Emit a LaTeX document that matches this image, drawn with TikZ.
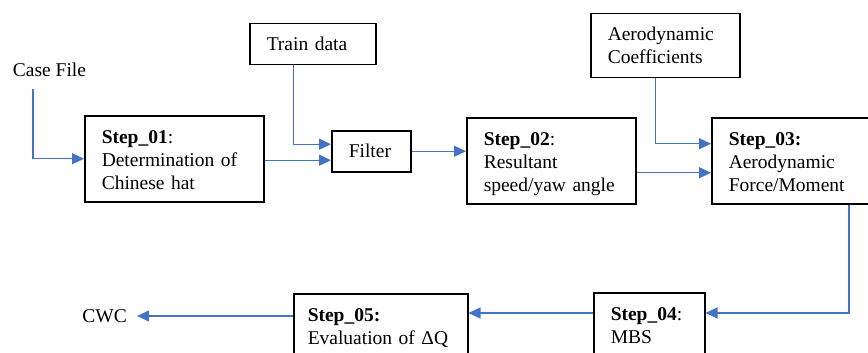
\documentclass[tikz,border=0pt]{standalone}
\usepackage{fontspec}
\setmainfont{Liberation Serif}
\usetikzlibrary{arrows.meta}

\definecolor{flowblue}{HTML}{4472C4}

\begin{document}
\begin{tikzpicture}[x=1pt, y=-1pt,
	every node/.style={font=\fontsize{19.5}{22.8}\selectfont},
	stepbox/.style={draw, line width=1.5pt, anchor=north west, align=left, inner xsep=17pt, inner ysep=0pt, text height=28pt, text depth=58pt},
	databox/.style={draw, line width=1.5pt, anchor=north west, align=left, inner xsep=17pt, inner ysep=0pt, text height=27pt, text depth=14pt},
	flow/.style={draw=flowblue, line width=1.1pt, -{Triangle[length=12pt, width=11pt]}, fill=none}]
	\useasboundingbox (0,0) rectangle (868,353);
	% inputs and outputs
	\node[inner sep=0pt] (case) at (49.5,69.5) {Case File};
	\coordinate (caseout) at (33,89);
	\node[inner xsep=10pt, inner ysep=0pt] (cwc) at (104.7,316) {CWC};
	\node[databox, text width=92pt] (train) at (249,23) {Train data};
	\node[databox, text width=45pt] (filter) at (331,130) {Filter};
	\node[databox, text width=115pt, text depth=37pt] (aero) at (590,13) {Aerodynamic\\Coefficients};
	% the five steps
	\node[stepbox, text width=145pt] (s1) at (84,115) {\textbf{Step\_01}:\\Determination of\\Chinese hat};
	\node[stepbox, text width=135pt] (s2) at (466,117) {\textbf{Step\_02}:\\Resultant\\speed/yaw angle};
	\node[stepbox, text width=150pt] (s3) at (711,117) {\textbf{Step\_03:}\\Aerodynamic\\Force/Moment};
	\node[stepbox, text width=77pt, text depth=80pt] (s4) at (593,292) {\textbf{Step\_04}:\\MBS};
	\node[stepbox, text width=146pt, inner xsep=14pt, text depth=80pt] (s5) at (293,293) {\textbf{Step\_05:}\\Evaluation of ΔQ};
	% connectors
	\draw[flow] (caseout) |- (s1.west);
	\draw[flow] ([xshift=-19pt]train.south) |- ([yshift=7pt]filter.west);
	\draw[flow] ([yshift=-9pt]filter.west -| s1.east) -- ([yshift=-9pt]filter.west);
	\draw[flow] (filter.east) -- (filter.east -| s2.west);
	\draw[flow] ([xshift=-9.5pt]aero.south) |- ([yshift=17pt]s3.west);
	\draw[flow] ([yshift=-12pt]s2.east) -- ([yshift=-12pt]s2.east -| s3.west);
	\draw[flow] ([xshift=138pt]s3.south west) |- ([yshift=-21pt]s4.north east);
	\draw[flow] ([yshift=-21pt]s4.north west) -- ([yshift=-21pt]s4.north west -| s5.east);
	\draw[flow] ([yshift=-23pt]s5.north west) -- (cwc.east);
\end{tikzpicture}
\end{document}
